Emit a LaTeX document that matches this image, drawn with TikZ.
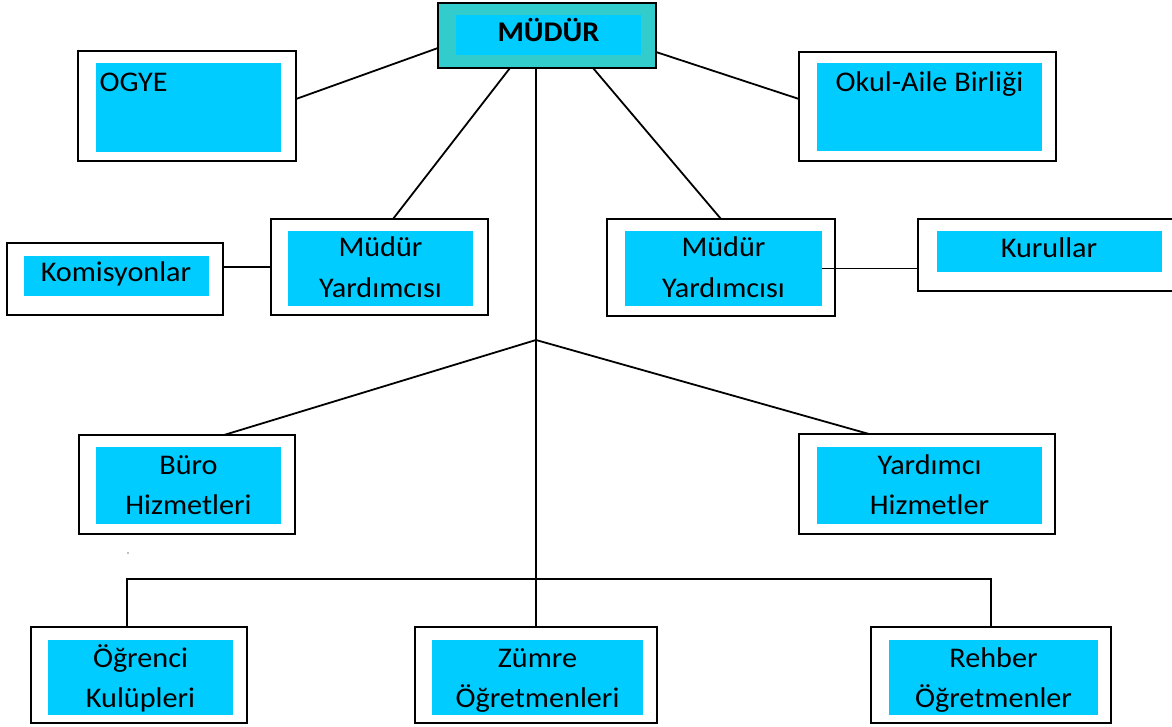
\documentclass[tikz,border=0pt]{standalone}
\usepackage{fontspec}
\setmainfont{Carlito}[FakeStretch=1.06]
\definecolor{cyanf}{HTML}{00CCFF}
\definecolor{tealf}{HTML}{33CCCC}
\newcommand{\orgbox}[9]{%
  \node[outerbox, minimum width=#4pt, minimum height=#5pt] (#1) at (#2,#3) {};
  \node[innerbox, minimum width=#8pt, minimum height=#9pt] (#1-in) at (#6,#7) {};}
\newcommand{\twolines}[2]{\begin{tabular}[t]{@{}c@{}}#1\\#2\end{tabular}}
\begin{document}
\begin{tikzpicture}[x=1pt,y=-1pt,
  outerbox/.style={draw=black, line width=2pt, fill=white, inner sep=0pt, outer sep=0pt, anchor=north west},
  innerbox/.style={fill=cyanf, inner sep=0pt, outer sep=0pt, anchor=north west},
  lbl/.style={font=\fontsize{28.5}{40.5}\selectfont, inner sep=0pt, outer sep=0pt, anchor=base},
  conn/.style={line width=1.8pt, draw=black}]
\useasboundingbox (0,0) rectangle (1172,727);
\clip (0,0) rectangle (1172,727);
\fill[white] (0,0) rectangle (1172,727);

% MUDUR
\node[outerbox, fill=tealf, minimum width=218pt, minimum height=65pt] (mudur) at (438,3) {};
\node[innerbox, minimum width=185pt, minimum height=40pt] (mudur-in) at (456,15) {};
\node[lbl, font=\fontsize{28.5}{40.5}\selectfont\bfseries] (t-mudur) at (548.5,42) {MÜDÜR};

% boxes: name, ox, oy, ow, oh, ix, iy, iw, ih
\orgbox{ogye}{78}{51}{218}{110}{96}{63}{185}{89}
\orgbox{okul}{799}{52}{257}{109}{817}{63}{225}{88}
\orgbox{kom}{7}{243}{216}{72}{24}{256}{185}{40}
\orgbox{myl}{271}{219}{217}{96}{288}{231}{185}{75}
\orgbox{myr}{607}{219}{228}{97}{625}{231}{197}{75}
\orgbox{kur}{918}{219}{262}{72}{937}{231}{225}{41}
\orgbox{buro}{79}{435}{216}{99}{96}{447}{185}{77}
\orgbox{yard}{799}{434}{256}{100}{817}{447}{225}{77}
\orgbox{ogr}{31}{627}{216}{96}{48}{640}{185}{75}
\orgbox{zum}{415}{627}{242}{96}{432}{640}{211}{75}
\orgbox{reh}{871}{627}{240}{96}{889}{640}{209}{75}

% texts
\node[lbl, anchor=base west] (t-ogye) at (99.5,92) {OGYE};
\node[lbl] (t-okul) at (929.5,92) {Okul-Aile Birliği};
\node[lbl] (t-kom) at (116,282) {Komisyonlar};
\node[lbl] (t-kur) at (1049,258) {Kurullar};
\node[lbl] (t-myl) at (380.5,257) {\twolines{Müdür}{Yardımcısı}};
\node[lbl] (t-myr) at (723.5,257) {\twolines{Müdür}{Yardımcısı}};
\node[lbl] (t-buro) at (188.5,474) {\twolines{Büro}{Hizmetleri}};
\node[lbl] (t-yard) at (929.5,474) {\twolines{Yardımcı}{Hizmetler}};
\node[lbl] (t-ogr) at (140.5,667) {\twolines{Öğrenci}{Kulüpleri}};
\node[lbl] (t-zum) at (537.5,667) {\twolines{Zümre}{Öğretmenleri}};
\node[lbl] (t-reh) at (993.5,667) {\twolines{Rehber}{Öğretmenler}};

% connectors
\coordinate (j) at (536,340);
\coordinate (bus) at (536,579);
\coordinate (ogrtop) at ([xshift=-12pt]ogr.north);
\draw[conn] ([yshift=7pt]ogye.east) -- ([yshift=-12.5pt]mudur.west);
\draw[conn] ([yshift=-16.5pt]mudur.east) -- ([yshift=7.5pt]okul.west);
\draw[conn] ([xshift=-37pt]mudur.south) -- ([xshift=13.5pt]myl.north);
\draw[conn] ([xshift=46pt]mudur.south) -- (myr.north);
\draw[conn] ([xshift=-11pt]mudur.south) -- (zum.north);
\draw[conn] (j) -- ([xshift=37pt]buro.north);
\draw[conn] (j) -- ([xshift=-58pt]yard.north);
\draw[conn] (ogrtop) -- (ogrtop |- bus) -- (reh.north |- bus) -- (reh.north);
\draw[conn] (kom.east |- myl.west) -- (myl.west);
\draw[conn] (myr-in.east) -- (myr-in.east -| kur.west);
\fill[gray] (128,553) circle (0.8pt);
\end{tikzpicture}
\end{document}
